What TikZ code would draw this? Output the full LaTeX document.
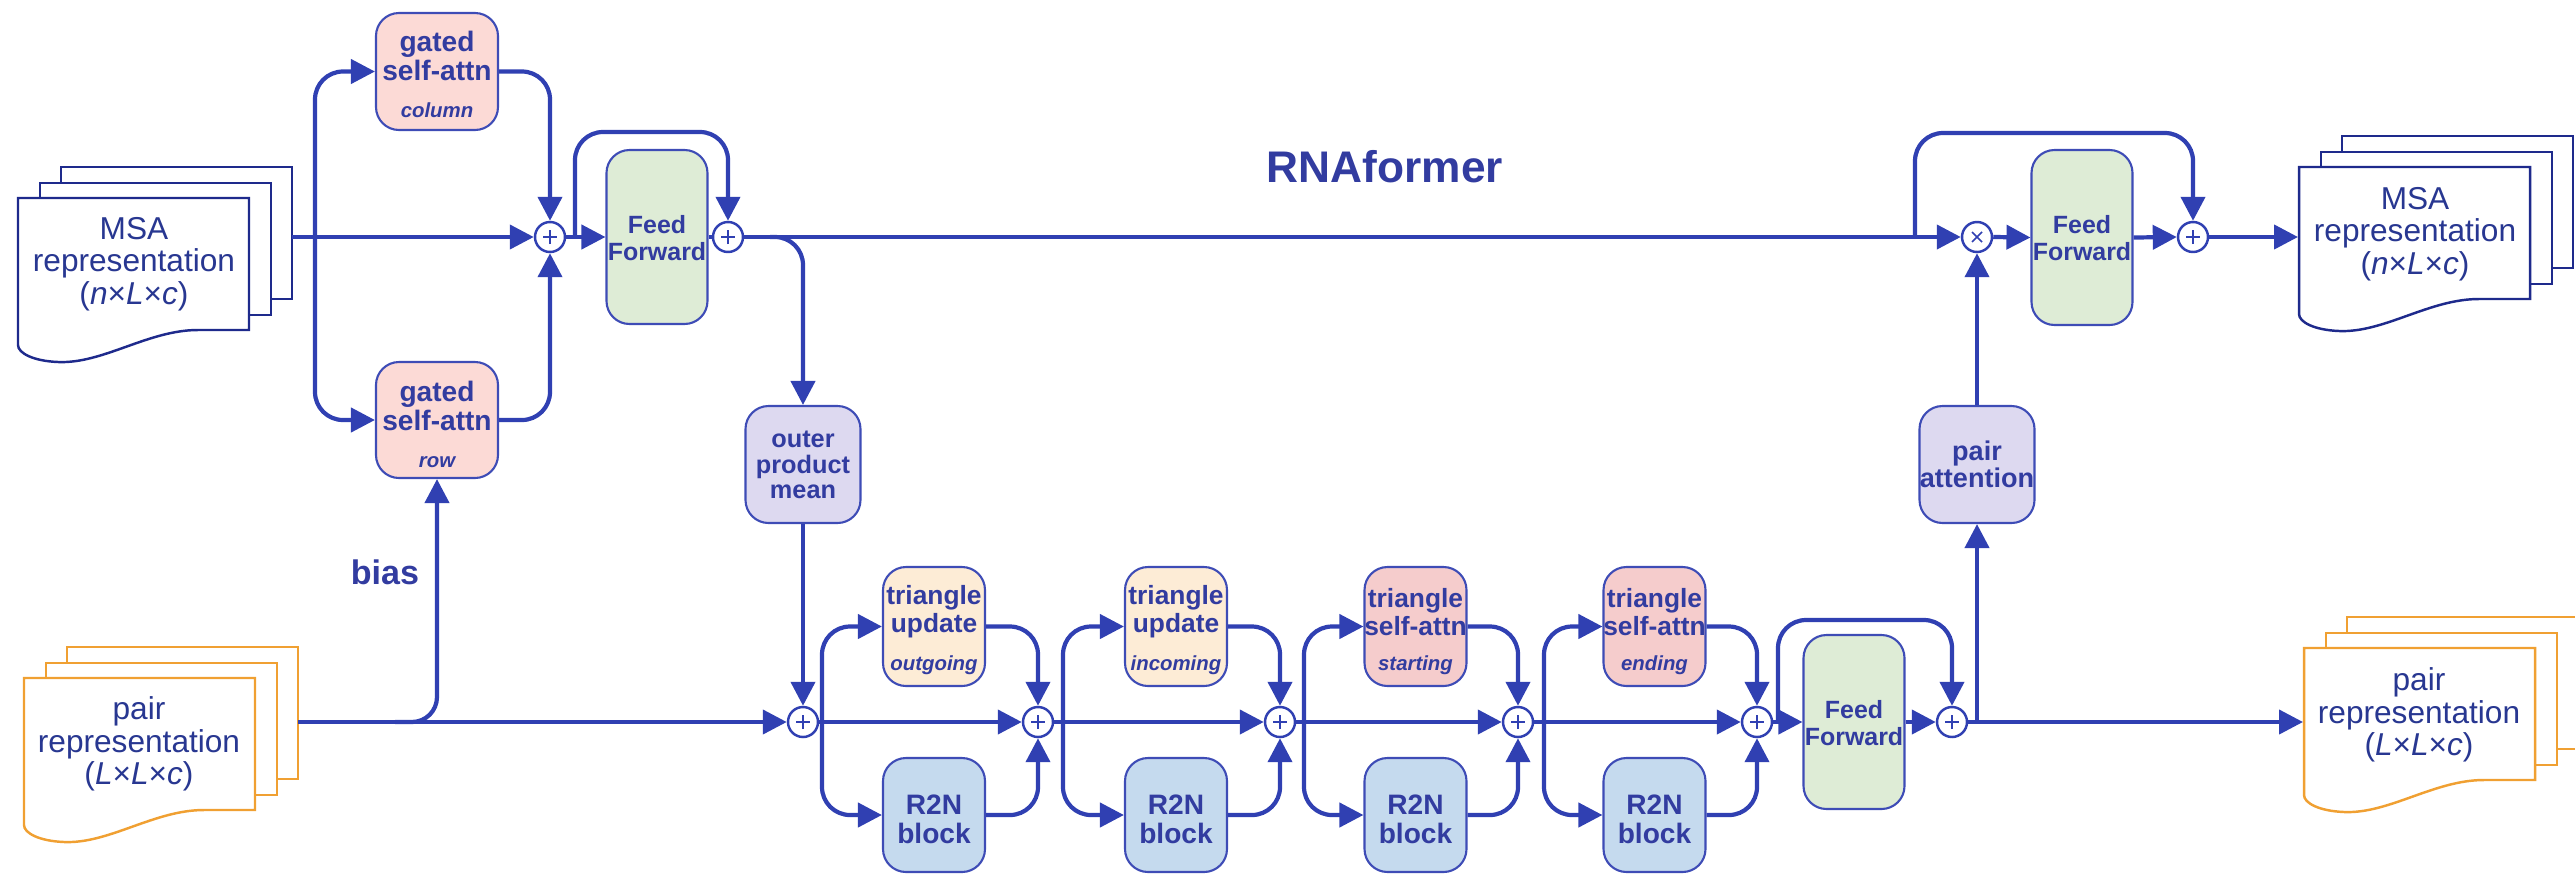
\documentclass[tikz,border=0pt]{standalone}
\usepackage{fontspec}
\setmainfont{Liberation Sans}
\usetikzlibrary{arrows.meta}
\definecolor{lblue}{RGB}{48,64,178}
\definecolor{bblue}{RGB}{62,76,182}
\definecolor{tblue}{RGB}{50,60,160}
\definecolor{navy}{RGB}{30,42,140}
\definecolor{doctxt}{RGB}{40,55,145}
\definecolor{orng}{RGB}{240,160,50}
\definecolor{pinkA}{RGB}{252,218,214}
\definecolor{greenF}{RGB}{222,236,214}
\definecolor{lav}{RGB}{221,217,240}
\definecolor{peach}{RGB}{253,236,214}
\definecolor{pinkB}{RGB}{245,204,204}
\definecolor{blueR}{RGB}{197,218,238}
\newcommand\docstack[3]{%
 \begin{scope}[shift={(#1,#2)}]
  \draw[draw=#3, line width=0.7pt, fill=white] (43,-31) rectangle (274,101);
  \draw[draw=#3, line width=0.7pt, fill=white] (22,-15) rectangle (253,117);
  \draw[draw=#3, line width=0.7pt, fill=white] (0,0) -- (231,0) -- (231,132) -- (180,132)
    .. controls (130,132) and (85,166) .. (40,164)
    .. controls (15,163) and (0,155) .. (0,147) -- cycle;
 \end{scope}}
\begin{document}
\begin{tikzpicture}[x=0.1mm,y=-0.1mm,
 ln/.style={draw=lblue, line width=1.2pt},
 arr/.style={ln, -{Triangle[length=2.4mm,width=2.4mm]}},
 rc/.style={rounded corners=2.8mm},
 box/.style={draw=bblue, line width=0.6pt, rounded corners=2.3mm, inner sep=0pt},
 btxt/.style={text=tblue, font=\bfseries\fontsize{8}{8.3}\selectfont, align=center, inner sep=0pt},
 ttxt/.style={text=tblue, font=\bfseries\fontsize{7.5}{8}\selectfont, align=center, inner sep=0pt},
 ftxt/.style={text=tblue, font=\bfseries\fontsize{7.1}{7.7}\selectfont, align=center, inner sep=0pt},
 otxt/.style={text=tblue, font=\bfseries\fontsize{7.2}{7.3}\selectfont, align=center, inner sep=0pt},
 itxt/.style={text=tblue, font=\bfseries\itshape\fontsize{5.8}{7}\selectfont, inner sep=0pt},
 dtxt/.style={text=doctxt, font=\fontsize{9}{9.3}\selectfont, align=center, inner sep=0pt},
 plusc/.style={circle, draw=lblue, fill=white, line width=0.7pt, minimum size=3mm, inner sep=0pt,
   path picture={\draw[lblue, line width=0.45pt]
     ([xshift=-0.7mm]path picture bounding box.center) -- ([xshift=0.7mm]path picture bounding box.center)
     ([yshift=-0.7mm]path picture bounding box.center) -- ([yshift=0.7mm]path picture bounding box.center);}},
 multc/.style={circle, draw=lblue, fill=white, line width=0.7pt, minimum size=3mm, inner sep=0pt,
   path picture={\draw[lblue, line width=0.45pt]
     ([shift={(-0.5mm,-0.5mm)}]path picture bounding box.center) -- ([shift={(0.5mm,0.5mm)}]path picture bounding box.center)
     ([shift={(-0.5mm,0.5mm)}]path picture bounding box.center) -- ([shift={(0.5mm,-0.5mm)}]path picture bounding box.center);}}
]
\useasboundingbox (0,0) rectangle (2575,876);

% ---------- documents ----------
\docstack{18}{198}{navy}
\docstack{24}{678}{orng}
\docstack{2299}{167}{navy}
\docstack{2304}{648}{orng}
\node[dtxt] (msainT) at (134,264) {MSA\\representation\\(\textit{n}×\textit{L}×\textit{c})};
\node[dtxt] (pairinT) at (139,744) {pair\\representation\\(\textit{L}×\textit{L}×\textit{c})};
\node[dtxt] (msaoutT) at (2415,234) {MSA\\representation\\(\textit{n}×\textit{L}×\textit{c})};
\node[dtxt] (pairoutT) at (2419,715) {pair\\representation\\(\textit{L}×\textit{L}×\textit{c})};
\coordinate (msain-e) at (292,237);
\coordinate (pairin-e) at (298,722);
\coordinate (msaout-w) at (2298,237);
\coordinate (pairout-w) at (2303,722);

% ---------- titles ----------
\node[text=tblue, font=\bfseries\fontsize{12.6}{14}\selectfont, inner sep=0pt] (title) at (1385,167) {RNAformer};
\node[text=tblue, font=\bfseries\fontsize{9.7}{11}\selectfont, inner sep=0pt] (bias) at (385,572) {bias};

% ---------- boxes ----------
\node[box, fill=pinkA, minimum width=12.2mm, minimum height=11.7mm] (gcol) at (437,71.5) {};
\node[box, fill=pinkA, minimum width=12.2mm, minimum height=11.6mm] (grow) at (437,420) {};
\node[box, fill=greenF, minimum width=10.1mm, minimum height=17.4mm] (ff1) at (657,237) {};
\node[box, fill=lav, minimum width=11.5mm, minimum height=11.7mm] (opm) at (803,464.5) {};
\node[box, fill=peach, minimum width=10.2mm, minimum height=11.9mm] (t1) at (934,626.5) {};
\node[box, fill=peach, minimum width=10.2mm, minimum height=11.9mm] (t2) at (1176,626.5) {};
\node[box, fill=pinkB, minimum width=10.2mm, minimum height=11.9mm] (t3) at (1415.5,626.5) {};
\node[box, fill=pinkB, minimum width=10.2mm, minimum height=11.9mm] (t4) at (1654.5,626.5) {};
\node[box, fill=blueR, minimum width=10.2mm, minimum height=11.4mm] (r1) at (934,815) {};
\node[box, fill=blueR, minimum width=10.2mm, minimum height=11.4mm] (r2) at (1176,815) {};
\node[box, fill=blueR, minimum width=10.2mm, minimum height=11.4mm] (r3) at (1415.5,815) {};
\node[box, fill=blueR, minimum width=10.2mm, minimum height=11.4mm] (r4) at (1654.5,815) {};
\node[box, fill=greenF, minimum width=10.1mm, minimum height=17.4mm] (ff2) at (1854,722) {};
\node[box, fill=lav, minimum width=11.5mm, minimum height=11.7mm] (pa) at (1977,464.5) {};
\node[box, fill=greenF, minimum width=10.1mm, minimum height=17.5mm] (ff3) at (2082,237.5) {};

% box texts
\node[btxt] (gcolT) at (437,56) {gated\\self-attn};
\node[itxt] (gcolS) at (437,110) {column};
\node[btxt] (growT) at (437,406) {gated\\self-attn};
\node[itxt] (growS) at (437,462) {row};
\node[ftxt] (ff1T) at (657,238.5) {Feed\\Forward};
\node[ftxt] (ff2T) at (1854,723.5) {Feed\\Forward};
\node[ftxt] (ff3T) at (2082,238.5) {Feed\\Forward};
\node[otxt] (opmT) at (803,465) {outer\\product\\mean};
\node[ttxt] (t1T) at (934,612) {triangle\\update};
\node[itxt] (t1S) at (934,665) {outgoing};
\node[ttxt] (t2T) at (1176,612) {triangle\\update};
\node[itxt] (t2S) at (1176,665) {incoming};
\node[ttxt] (t3T) at (1415.5,612) {triangle\\self-attn};
\node[itxt] (t3S) at (1415.5,665) {starting};
\node[ttxt] (t4T) at (1654.5,612) {triangle\\self-attn};
\node[itxt] (t4S) at (1654.5,665) {ending};
\node[btxt] (r1T) at (934,819) {R2N\\block};
\node[btxt] (r2T) at (1176,819) {R2N\\block};
\node[btxt] (r3T) at (1415.5,819) {R2N\\block};
\node[btxt] (r4T) at (1654.5,819) {R2N\\block};
\node[text=tblue, font=\bfseries\fontsize{7.7}{7.8}\selectfont, align=center, inner sep=0pt] (paT) at (1977,464.5) {pair\\attention};

% ---------- sum / product circles ----------
\node[plusc] (sa) at (550,237) {};
\node[plusc] (sb) at (728,237) {};
\node[multc] (mul) at (1977,237) {};
\node[plusc] (sc) at (2193,237) {};
\node[plusc] (q1) at (803,722) {};
\node[plusc] (q2) at (1038,722) {};
\node[plusc] (q3) at (1280,722) {};
\node[plusc] (q4) at (1518,722) {};
\node[plusc] (q5) at (1757,722) {};
\node[plusc] (q6) at (1952,722) {};

% branch coordinates
\coordinate (sp0) at (315,237);
\coordinate (sk1) at (575,237);
\coordinate (br1) at (770,237);
\coordinate (bb) at (395,722);
\coordinate (s1) at (822,722);
\coordinate (s2) at (1063,722);
\coordinate (s3) at (1304,722);
\coordinate (s4) at (1544,722);
\coordinate (sk2) at (1778,722);
\coordinate (pab) at (1977,722);
\coordinate (sk3) at (1915,237);

% ---------- MSA track ----------
\draw[arr] (msain-e) -- (sa.west);
\draw[arr, rc] (sp0) |- (gcol.west);
\draw[arr, rc] (sp0) |- (grow.west);
\draw[arr, rc] (gcol.east) -| (sa.north);
\draw[arr, rc] (grow.east) -| (sa.south);
\draw[arr] (sa.east) -- (ff1.west);
\draw[arr, rc] (sk1) -- (575,132) -| (sb.north);
\draw[ln] (ff1.east) -- (sb.west);
\draw[arr] (sb.east) -- (mul.west);
\draw[arr, rc] (br1) -| (opm.north);
\draw[arr] (mul.east) -- (ff3.west);
\draw[arr] (ff3.east) -- (sc.west);
\draw[arr, rc] (sk3) -- (1915,133) -| (sc.north);
\draw[arr] (sc.east) -- (msaout-w);

% ---------- pair track ----------
\draw[arr] (pairin-e) -- (q1.west);
\draw[arr, rounded corners=2.5mm] (bb) -| (grow.south);
\draw[arr] (opm.south) -- (q1.north);
\draw[arr] (q1.east) -- (q2.west);
\draw[arr] (q2.east) -- (q3.west);
\draw[arr] (q3.east) -- (q4.west);
\draw[arr] (q4.east) -- (q5.west);
\draw[arr, rc] (s1) |- (t1.west);
\draw[arr, rc] (s1) |- (r1.west);
\draw[arr, rc] (t1.east) -| (q2.north);
\draw[arr, rc] (r1.east) -| (q2.south);
\draw[arr, rc] (s2) |- (t2.west);
\draw[arr, rc] (s2) |- (r2.west);
\draw[arr, rc] (t2.east) -| (q3.north);
\draw[arr, rc] (r2.east) -| (q3.south);
\draw[arr, rc] (s3) |- (t3.west);
\draw[arr, rc] (s3) |- (r3.west);
\draw[arr, rc] (t3.east) -| (q4.north);
\draw[arr, rc] (r3.east) -| (q4.south);
\draw[arr, rc] (s4) |- (t4.west);
\draw[arr, rc] (s4) |- (r4.west);
\draw[arr, rc] (t4.east) -| (q5.north);
\draw[arr, rc] (r4.east) -| (q5.south);
\draw[arr] (q5.east) -- (ff2.west);
\draw[arr] (ff2.east) -- (q6.west);
\draw[arr, rc] (sk2) -- (1778,620) -| (q6.north);
\draw[arr] (q6.east) -- (pairout-w);
\draw[arr] (pab) -- (pa.south);
\draw[arr] (pa.north) -- (mul.south);
\end{tikzpicture}
\end{document}
